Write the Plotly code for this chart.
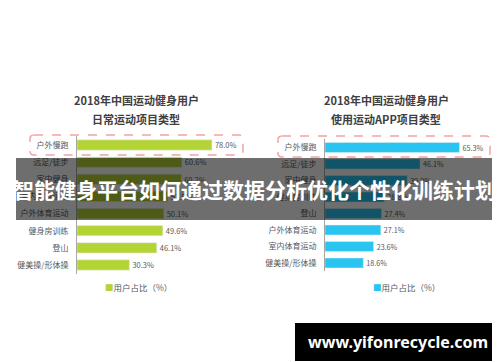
import plotly.graph_objects as go

# ---- data ----
left_categories = ["户外慢跑", "远足/徒步", "家中健身", "室内体育运动", "户外体育运动", "健身房训练", "登山", "健美操/形体操"]
left_values = [78.0, 60.6, 60.2, 52.5, 50.1, 49.6, 46.1, 30.3]

right_categories = ["户外慢跑", "远足/徒步", "家中健身", "健身房训练", "登山", "户外体育运动", "室内体育运动", "健美操/形体操"]
right_values = [65.3, 46.1, 39.9, 28.8, 27.4, 27.1, 23.6, 18.6]

left_title = ["2018年中国运动健身用户", "日常运动项目类型"]
right_title = ["2018年中国运动健身用户", "使用运动APP项目类型"]
legend_label = "用户占比（%）"
banner_text = "智能健身平台如何通过数据分析优化个性化训练计划"
watermark_text = "www.yifonrecycle.com"

W, H = 500, 362
FONT = "Noto Sans CJK SC"
LEFT_COLOR = "#b4d335"
RIGHT_COLOR = "#29c4ef"
TXT = "#595959"


def px(x):
    return x / W


def py(y):
    return 1 - y / H


def rounded_rect(x0, y0, x1, y1, r):
    rx, ry = r / W, r / H
    X0, X1 = px(x0), px(x1)
    Y0, Y1 = py(y0), py(y1)  # Y0 top, Y1 bottom (paper)
    return (f"M {X0+rx},{Y0} L {X1-rx},{Y0} Q {X1},{Y0} {X1},{Y0-ry} "
            f"L {X1},{Y1+ry} Q {X1},{Y1} {X1-rx},{Y1} "
            f"L {X0+rx},{Y1} Q {X0},{Y1} {X0},{Y1+ry} "
            f"L {X0},{Y0-ry} Q {X0},{Y0} {X0+rx},{Y0} Z")


fig = go.Figure()

fig.add_trace(go.Bar(
    x=left_values, y=left_categories, orientation="h",
    marker=dict(color=LEFT_COLOR), xaxis="x", yaxis="y",
    text=[f"{v:.1f}%" for v in left_values], textposition="outside",
    textfont=dict(color=TXT, size=8, family=FONT), cliponaxis=False,
    showlegend=False, hoverinfo="skip",
))
fig.add_trace(go.Bar(
    x=right_values, y=right_categories, orientation="h",
    marker=dict(color=RIGHT_COLOR), xaxis="x2", yaxis="y2",
    text=[f"{v:.1f}%" for v in right_values], textposition="outside",
    textfont=dict(color=TXT, size=8, family=FONT), cliponaxis=False,
    showlegend=False, hoverinfo="skip",
))

# left rows: centers 137 -> 257 ; right rows 139.5 -> 255
lband = (257 - 137) / 7
rband = (255 - 139.5) / 7

yaxis_common = dict(
    autorange="reversed", showgrid=False, zeroline=False, showline=True,
    linecolor="#a6a6a6", linewidth=1, ticks="outside", ticklen=6,
    tickcolor="rgba(0,0,0,0)", tickfont=dict(size=8, color=TXT, family=FONT),
    automargin=False,
)
xaxis_common = dict(visible=False, showgrid=False, zeroline=False, automargin=False)

fig.update_layout(
    width=W, height=H, autosize=False,
    margin=dict(l=0, r=0, t=0, b=0),
    paper_bgcolor="white", plot_bgcolor="white",
    font=dict(family=FONT, color=TXT),
    bargap=0.4,
    xaxis=dict(domain=[px(69), px(69 + 1.73 * 100)], range=[0, 100], anchor="y", **xaxis_common),
    yaxis=dict(domain=[py(257 + lband / 2), py(137 - lband / 2)], anchor="x", **yaxis_common),
    xaxis2=dict(domain=[px(317), px(317 + 2.06 * 80)], range=[0, 80], anchor="y2", **xaxis_common),
    yaxis2=dict(domain=[py(255 + rband / 2), py(139.5 - rband / 2)], anchor="x2", **yaxis_common),
)

shapes = [
    dict(type="path", xref="paper", yref="paper", path=rounded_rect(22, 127, 235, 147, 4),
         line=dict(color="#f2a3a3", width=1.5, dash="dash"), layer="below"),
    dict(type="path", xref="paper", yref="paper", path=rounded_rect(270, 128, 482, 149, 4),
         line=dict(color="#f2a3a3", width=1.5, dash="dash"), layer="below"),
    # banner overlay
    dict(type="rect", xref="paper", yref="paper", x0=px(8), x1=px(492), y0=py(212), y1=py(150),
         fillcolor="rgba(0,0,0,0.57)", line=dict(width=0), layer="above"),
    # watermark box
    dict(type="rect", xref="paper", yref="paper", x0=px(287), x1=px(492), y0=py(353), y1=py(315),
         fillcolor="black", line=dict(width=0), layer="above"),
]

annotations = []
for cx, lines in ((128, left_title), (378, right_title)):
    for i, t in enumerate(lines):
        annotations.append(dict(
            text=f"<b>{t}</b>", x=px(cx), y=py(92 + 18.5 * i), xref="paper", yref="paper",
            showarrow=False, xanchor="center", yanchor="middle",
            font=dict(size=11, color="#404040", family=FONT)))

for cx, col in ((130, LEFT_COLOR), (398, RIGHT_COLOR)):
    annotations.append(dict(
        text=f"<span style='color:{col}'>■</span>{legend_label}",
        x=px(cx), y=py(279), xref="paper", yref="paper", showarrow=False,
        xanchor="center", yanchor="middle", font=dict(size=8.5, color=TXT, family=FONT)))

annotations.append(dict(
    text=f"<b>{banner_text}</b>", x=px(246), y=py(181), xref="paper", yref="paper",
    showarrow=False, xanchor="center", yanchor="middle",
    font=dict(size=21, color="white", family=FONT)))
annotations.append(dict(
    text=f"<b>{watermark_text}</b>", x=px(389.5), y=py(334), xref="paper", yref="paper",
    showarrow=False, xanchor="center", yanchor="middle",
    font=dict(size=16, color="white", family="Noto Sans")))

fig.update_layout(shapes=shapes, annotations=annotations)

fig.write_html("out.html", config={"displayModeBar": False})
